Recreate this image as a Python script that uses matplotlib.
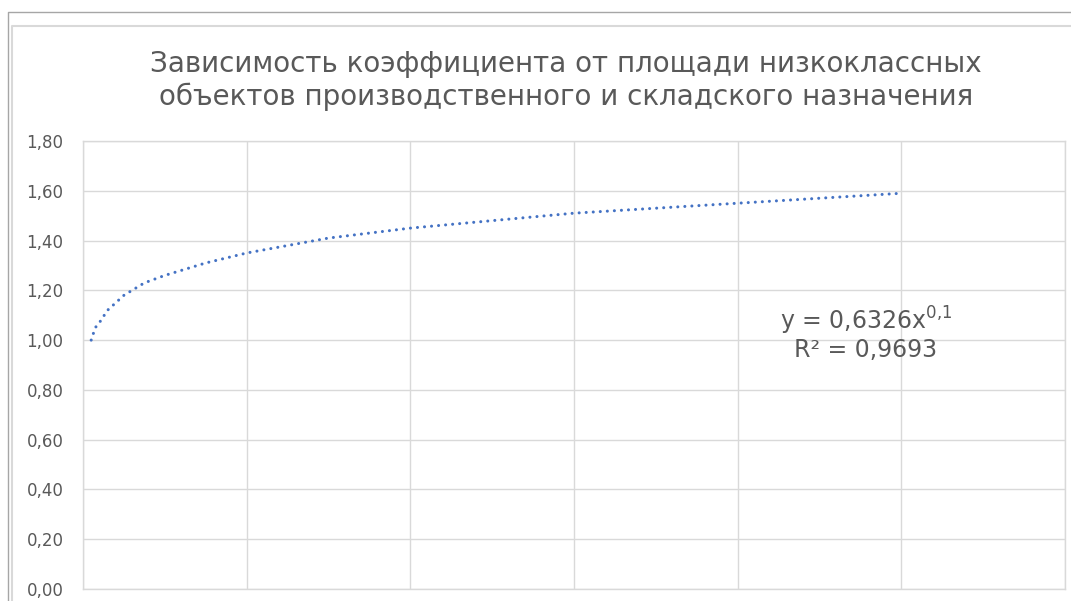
import matplotlib.pyplot as plt
from matplotlib.lines import Line2D

plt.rcParams["font.family"] = ["DejaVu Sans"]
plt.rcParams["mathtext.fontset"] = "dejavusans"

# trendline readings (area -> coefficient)
area = [100, 150, 200, 300, 400, 500, 750, 1000, 1500, 2000, 2500, 3000, 4000,
        5000, 6000, 7000, 8000, 9000, 10000]
coef = [1.00, 1.05, 1.07, 1.12, 1.15, 1.18, 1.23, 1.26, 1.31, 1.35, 1.38, 1.41, 1.45,
        1.48, 1.51, 1.53, 1.55, 1.57, 1.59]

y_ticks = [0.0, 0.2, 0.4, 0.6, 0.8, 1.0, 1.2, 1.4, 1.6, 1.8]
x_ticks = [0, 2000, 4000, 6000, 8000, 10000, 12000]

title_1 = "Зависимость коэффициента от площади низкоклассных"
title_2 = "объектов производственного и складского назначения"
eq_line1 = r"y = 0,6326x$^{\mathdefault{0{,}1}}$"
eq_line2 = "R² = 0,9693"

W, H = 1071, 601
fig = plt.figure(figsize=(W / 100, H / 100), dpi=100)
ax = fig.add_axes([83 / W, 1 - 589 / H, (1065 - 83) / W, (589 - 141) / H])

grid_c = "#D9D9D9"
text_c = "#595959"

ax.plot(area, coef, color="#4472C4", lw=2.2, linestyle=(0, (0.01, 2.3)),
        dash_capstyle="round")

ax.set_xlim(0, 12000)
ax.set_ylim(0, 1.8)
ax.set_xticks(x_ticks)
ax.set_yticks(y_ticks)
ax.set_yticklabels(["{:.2f}".format(v).replace(".", ",") for v in y_ticks])
ax.grid(True, color=grid_c, lw=1)
ax.tick_params(length=0, labelbottom=False, labelsize=12, labelcolor=text_c, pad=14)
for s in ax.spines.values():
    s.set_color(grid_c)
    s.set_linewidth(1)

fig.text(566 / W, 1 - 72 / H, title_1, ha="center", va="baseline", fontsize=20, color=text_c)
fig.text(566 / W, 1 - 105 / H, title_2, ha="center", va="baseline", fontsize=20, color=text_c)
fig.text(866 / W, 1 - 330 / H, eq_line1, ha="center", va="baseline", fontsize=17, color=text_c)
fig.text(866 / W, 1 - 357 / H, eq_line2, ha="center", va="baseline", fontsize=17, color=text_c)

# chart frames
fig.add_artist(Line2D([7.5 / W, 7.5 / W, 1], [0, 1 - 11.5 / H, 1 - 11.5 / H], color="#A6A6A6", lw=1))
fig.add_artist(Line2D([11.5 / W, 11.5 / W, 1], [0, 1 - 25.5 / H, 1 - 25.5 / H], color=grid_c, lw=1.5))

fig.savefig("out.png", dpi=100)
